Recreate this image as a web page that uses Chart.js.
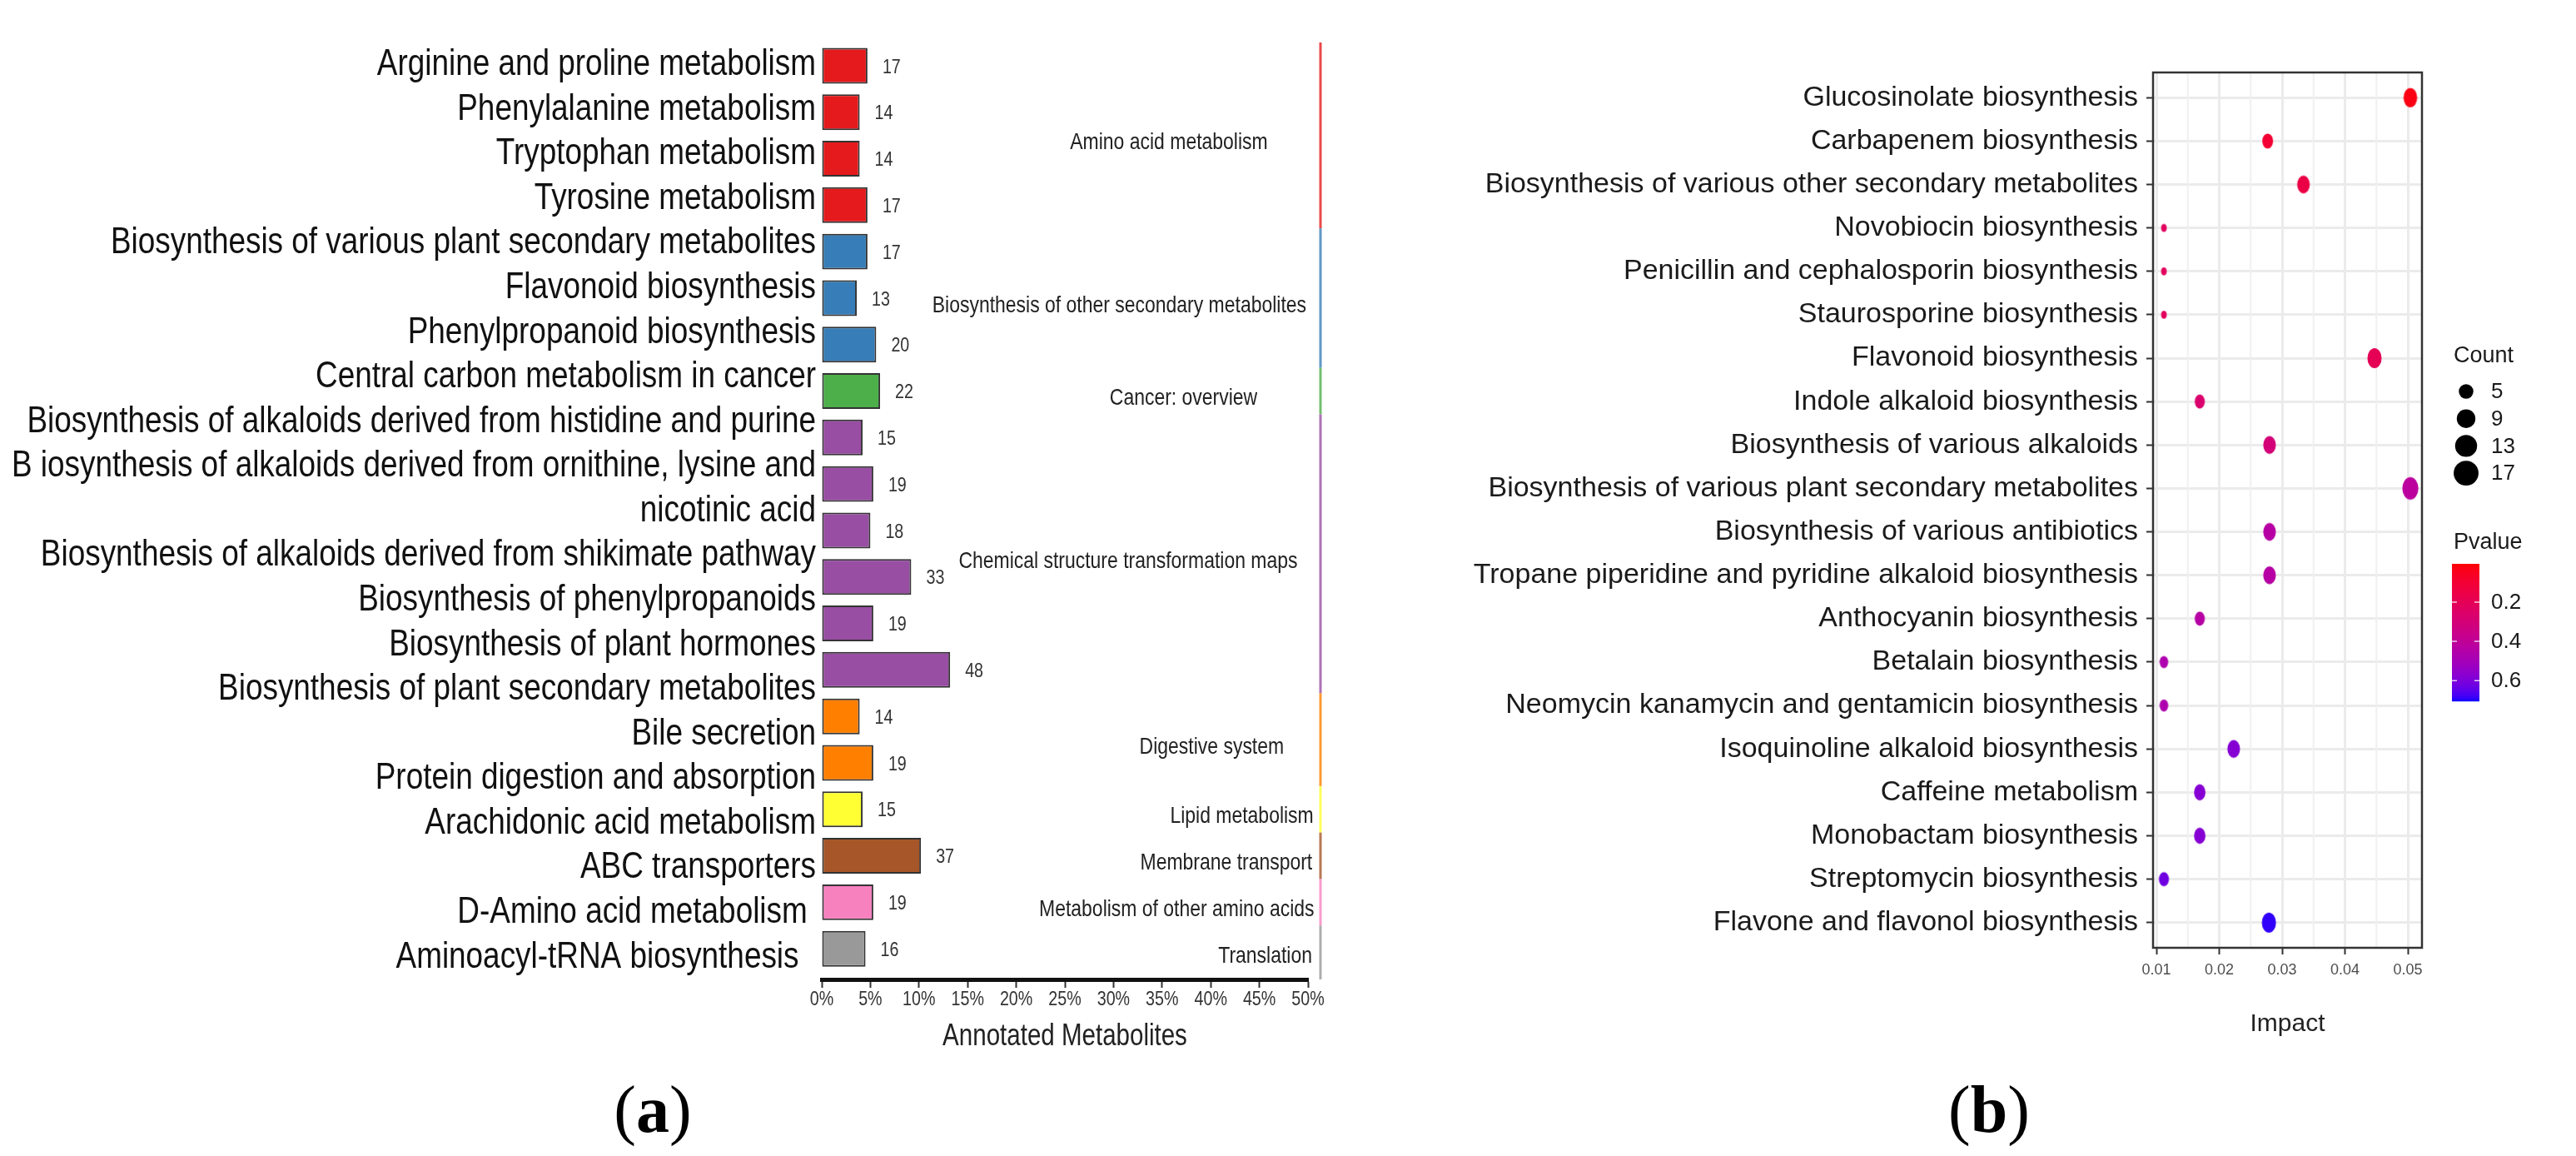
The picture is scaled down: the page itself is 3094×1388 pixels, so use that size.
<!DOCTYPE html>
<html>
<head>
<meta charset="utf-8">
<script src="https://cdn.jsdelivr.net/npm/chart.js@4.4.1/dist/chart.umd.min.js"></script>
<style>
  html, body { margin: 0; padding: 0; background: #fff; }
  #page { position: relative; width: 3094px; height: 1388px; overflow: hidden; }
  .box { position: absolute; top: 0; height: 1388px; }
  #boxA { left: 0; width: 1650px; }
  #boxB { left: 1650px; width: 1444px; }
  .tag { position: absolute; top: 1292px; font-family: "Liberation Serif", "DejaVu Serif", serif;
         font-size: 80px; line-height: 80px; color: #000; transform: translateX(-50%); }
</style>
</head>
<body>
<div id="page">
  <div class="box" id="boxA"><canvas id="chartA"></canvas></div>
  <div class="box" id="boxB"><canvas id="chartB"></canvas></div>
  <div class="tag" style="left:784px">(<b>a</b>)</div>
  <div class="tag" style="left:2389px">(<b>b</b>)</div>
</div>
<script>
const SANS = '"Liberation Sans", Arial, sans-serif';
const SQUEEZE = 0.82;   // panel (a) text is set in a condensed face

/* ---------- panel (a) data ---------- */
const pathways = [
  "Arginine and proline metabolism",
  "Phenylalanine metabolism",
  "Tryptophan metabolism",
  "Tyrosine metabolism",
  "Biosynthesis of various plant secondary metabolites",
  "Flavonoid biosynthesis",
  "Phenylpropanoid biosynthesis",
  "Central carbon metabolism in cancer",
  "Biosynthesis of alkaloids derived from histidine and purine",
  "B iosynthesis of alkaloids derived from ornithine, lysine and nicotinic acid",
  "Biosynthesis of alkaloids derived from shikimate pathway",
  "Biosynthesis of phenylpropanoids",
  "Biosynthesis of plant hormones",
  "Biosynthesis of plant secondary metabolites",
  "Bile secretion",
  "Protein digestion and absorption",
  "Arachidonic acid metabolism",
  "ABC transporters",
  "D-Amino acid metabolism",
  "Aminoacyl-tRNA biosynthesis"
];
// the text column of the figure runs on its own line grid (one name wraps)
const labelLines = [
  "Arginine and proline metabolism",
  "Phenylalanine metabolism",
  "Tryptophan metabolism",
  "Tyrosine metabolism",
  "Biosynthesis of various plant secondary metabolites",
  "Flavonoid biosynthesis",
  "Phenylpropanoid biosynthesis",
  "Central carbon metabolism in cancer",
  "Biosynthesis of alkaloids derived from histidine and purine",
  "B iosynthesis of alkaloids derived from ornithine, lysine and",
  "nicotinic acid",
  "Biosynthesis of alkaloids derived from shikimate pathway",
  "Biosynthesis of phenylpropanoids",
  "Biosynthesis of plant hormones",
  "Biosynthesis of plant secondary metabolites",
  "Bile secretion",
  "Protein digestion and absorption",
  "Arachidonic acid metabolism",
  "ABC transporters",
  "D-Amino acid metabolism ",
  "Aminoacyl-tRNA biosynthesis  "
];
const counts   = [17, 14, 14, 17, 17, 13, 20, 22, 15, 19, 18, 33, 19, 48, 14, 19, 15, 37, 19, 16];
const percents = [4.7, 3.9, 3.9, 4.7, 4.7, 3.6, 5.6, 6.0, 4.2, 5.3, 5.0, 9.2, 5.3, 13.2, 3.9, 5.3, 4.2, 10.2, 5.3, 4.5];
const percentTicks = [0, 5, 10, 15, 20, 25, 30, 35, 40, 45, 50];

const groupNames = [
  "Amino acid metabolism",
  "Biosynthesis of other secondary metabolites",
  "Cancer: overview",
  "Chemical structure transformation maps",
  "Digestive system",
  "Lipid metabolism",
  "Membrane transport",
  "Metabolism of other amino acids",
  "Translation"
];
const groupOf = [0, 0, 0, 0, 1, 1, 1, 2, 3, 3, 3, 3, 3, 3, 4, 4, 5, 6, 7, 8];
const groupColors = ["#E41A1C", "#377EB8", "#4DAF4A", "#984EA3", "#FF7F00",
                     "#FFFF33", "#A65628", "#F781BF", "#999999"];
// where each group name sits, in axis units (%)
const groupNameX = [35.7, 30.6, 37.2, 31.5, 40.1, 43.2, 41.6, 36.5, 45.6];

/* ---------- panel (b) data ---------- */
const impactPathways = [
  "Glucosinolate biosynthesis",
  "Carbapenem biosynthesis",
  "Biosynthesis of various other secondary metabolites",
  "Novobiocin biosynthesis",
  "Penicillin and cephalosporin biosynthesis",
  "Staurosporine biosynthesis",
  "Flavonoid biosynthesis",
  "Indole alkaloid biosynthesis",
  "Biosynthesis of various alkaloids",
  "Biosynthesis of various plant secondary metabolites",
  "Biosynthesis of various antibiotics",
  "Tropane piperidine and pyridine alkaloid biosynthesis",
  "Anthocyanin biosynthesis",
  "Betalain biosynthesis",
  "Neomycin kanamycin and gentamicin biosynthesis",
  "Isoquinoline alkaloid biosynthesis",
  "Caffeine metabolism",
  "Monobactam biosynthesis",
  "Streptomycin biosynthesis",
  "Flavone and flavonol biosynthesis"
];
const impact   = [0.0504, 0.0277, 0.0334, 0.0112, 0.0112, 0.0112, 0.0447, 0.0169, 0.0280, 0.0504,
                  0.0280, 0.0280, 0.0169, 0.0112, 0.0112, 0.0223, 0.0169, 0.0169, 0.0112, 0.0279];
const hitCount = [12, 7, 10, 1, 1, 1, 13, 6, 10, 17, 10, 10, 6, 4, 4, 10, 8, 8, 6, 13];
const pvalue   = [0.03, 0.10, 0.15, 0.22, 0.22, 0.22, 0.20, 0.27, 0.30, 0.42,
                  0.44, 0.44, 0.44, 0.47, 0.47, 0.58, 0.58, 0.58, 0.62, 0.69];
const impactMinor = [0.015, 0.025, 0.035, 0.045];
const countKeys = [5, 9, 13, 17];
const pvalueKeys = [0.2, 0.4, 0.6];
const P_MIN = 0.005, P_MAX = 0.705;

/* ---------- colour ramp red -> blue in CIELAB (like ggplot) ---------- */
function toLab(hex) {
  const n = parseInt(hex.slice(1), 16);
  const [r, g, b] = [n >> 16 & 255, n >> 8 & 255, n & 255].map(c => {
    c /= 255; return c <= 0.04045 ? c / 12.92 : Math.pow((c + 0.055) / 1.055, 2.4);
  });
  const x = (0.4124 * r + 0.3576 * g + 0.1805 * b) / 0.95047;
  const y = 0.2126 * r + 0.7152 * g + 0.0722 * b;
  const z = (0.0193 * r + 0.1192 * g + 0.9505 * b) / 1.08883;
  const f = t => t > 0.008856 ? Math.cbrt(t) : 7.787 * t + 16 / 116;
  return [116 * f(y) - 16, 500 * (f(x) - f(y)), 200 * (f(y) - f(z))];
}
function fromLab([L, a, b]) {
  const fy = (L + 16) / 116, fx = fy + a / 500, fz = fy - b / 200;
  const inv = t => t > 0.206893 ? t * t * t : (t - 16 / 116) / 7.787;
  const x = inv(fx) * 0.95047, y = inv(fy), z = inv(fz) * 1.08883;
  const lin = [3.2406 * x - 1.5372 * y - 0.4986 * z,
               -0.9689 * x + 1.8758 * y + 0.0415 * z,
               0.0557 * x - 0.2040 * y + 1.0570 * z];
  const out = lin.map(c => {
    c = c <= 0.0031308 ? 12.92 * c : 1.055 * Math.pow(c, 1 / 2.4) - 0.055;
    return Math.round(Math.min(1, Math.max(0, c)) * 255);
  });
  return `rgb(${out[0]},${out[1]},${out[2]})`;
}
const LOW_LAB = toLab("#FF0000"), HIGH_LAB = toLab("#0000FF");
function pColor(p) {
  const t = Math.min(1, Math.max(0, (p - P_MIN) / (P_MAX - P_MIN)));
  return fromLab(LOW_LAB.map((v, k) => v + (HIGH_LAB[k] - v) * t));
}
function dotRadius(c) { return Math.sqrt(35 + 29 * c) / 2; }

// dots in the plot come out a little taller than wide
function makeDot(color, r) {
  const w = 2 * r * 0.84, h = 2 * r * 1.18;
  const c = document.createElement("canvas");
  c.width = Math.ceil(w) + 2;
  c.height = Math.ceil(h) + 2;
  const g = c.getContext("2d");
  g.fillStyle = color;
  g.beginPath();
  g.ellipse(c.width / 2, c.height / 2, w / 2, h / 2, 0, 0, Math.PI * 2);
  g.fill();
  return c;
}

function squeezed(ctx, text, x, y, size, color, align) {
  ctx.save();
  ctx.font = `${size}px ${SANS}`;
  ctx.fillStyle = color;
  ctx.textAlign = align;
  ctx.textBaseline = "middle";
  ctx.translate(x, y);
  ctx.scale(SQUEEZE, 1);
  ctx.fillText(text, 0, 0);
  ctx.restore();
}

Chart.defaults.font.family = SANS;

/* ===============================
   panel (a) : bars
=============================== */
const barExtras = {
  id: "barExtras",
  afterDraw(chart) {
    const { ctx, chartArea } = chart;
    const meta = chart.getDatasetMeta(0);
    const xs = chart.scales.x, ys = chart.scales.y, ls = chart.scales.y2;

    // pathway names
    labelLines.forEach((t, j) =>
      squeezed(ctx, t, chartArea.left - 7, ls.getPixelForValue(j), 45, "#111", "right"));

    // counts next to the bars
    meta.data.forEach((bar, i) =>
      squeezed(ctx, String(counts[i]), bar.x + 18, bar.y + 2, 24, "#333", "left"));

    // x tick labels and title
    percentTicks.forEach(v =>
      squeezed(ctx, v + "%", xs.getPixelForValue(v), chartArea.bottom + 24, 24, "#333", "center"));
    squeezed(ctx, "Annotated Metabolites", (chartArea.left + chartArea.right) / 2,
             chartArea.bottom + 69, 36, "#222", "center");

    // class strip and class names
    const pitch = ys.getPixelForValue(1) - ys.getPixelForValue(0);
    groupNames.forEach((name, g) => {
      const rows = groupOf.map((v, i) => v === g ? i : -1).filter(i => i >= 0);
      const first = rows[0], last = rows[rows.length - 1];
      const top = first === 0 ? chartArea.top : ys.getPixelForValue(first) - pitch / 2;
      const bottom = last === pathways.length - 1 ? chartArea.bottom
                                                  : ys.getPixelForValue(last) + pitch / 2;
      ctx.save();
      ctx.globalAlpha = 0.8;
      ctx.strokeStyle = groupColors[g];
      ctx.lineWidth = 3;
      ctx.beginPath();
      ctx.moveTo(chartArea.right + 15, top);
      ctx.lineTo(chartArea.right + 15, bottom);
      ctx.stroke();
      ctx.restore();

      const mid = (ys.getPixelForValue(first) + ys.getPixelForValue(last)) / 2;
      squeezed(ctx, name, xs.getPixelForValue(groupNameX[g]), mid + 9, 28, "#222", "center");
    });
  }
};

new Chart(document.getElementById("chartA"), {
  type: "bar",
  data: {
    datasets: [{
      data: percents.map((v, i) => ({ x: v, y: i })),
      backgroundColor: groupOf.map(g => groupColors[g]),
      borderColor: "#333",
      borderWidth: 2,
      borderSkipped: false,
      barPercentage: 0.77,
      categoryPercentage: 1,
      xAxisID: "x",
      yAxisID: "y"
    }]
  },
  options: {
    indexAxis: "y",
    responsive: true,
    maintainAspectRatio: false,
    animation: false,
    layout: { padding: { top: 51, right: 79, bottom: 152, left: 0 } },
    plugins: { legend: { display: false }, tooltip: { enabled: false } },
    scales: {
      x: {
        type: "linear",
        min: 0,
        max: 50,
        afterBuildTicks: s => { s.ticks = percentTicks.map(v => ({ value: v })); },
        ticks: { display: false },
        grid: { drawOnChartArea: false, tickLength: 10, tickWidth: 2, tickColor: "#333" },
        border: { display: true, width: 5, color: "#111" },
        afterFit: s => { s.height = 60; }
      },
      y: {
        type: "linear",
        display: false,
        reverse: true,
        offset: false,
        min: -0.5,
        max: 19.66,
        grid: { offset: false },
        afterBuildTicks: s => { s.ticks = pathways.map((_, i) => ({ value: i })); }
      },
      y2: {
        type: "category",
        labels: labelLines,
        position: "left",
        offset: true,
        grid: { display: false },
        border: { display: false },
        ticks: { display: false },
        afterFit: s => { s.width = 987; }
      }
    }
  },
  plugins: [barExtras]
});

/* ===============================
   panel (b) : bubbles
=============================== */
const dotImages = pvalue.map((p, i) => makeDot(pColor(p), dotRadius(hitCount[i])));

const panelB = {
  id: "panelB",
  beforeDatasetsDraw(chart) {
    const { ctx, chartArea } = chart;
    const xs = chart.scales.x;
    ctx.save();
    ctx.strokeStyle = "#f0f0f0";
    ctx.lineWidth = 2;
    impactMinor.forEach(v => {
      const x = xs.getPixelForValue(v);
      ctx.beginPath();
      ctx.moveTo(x, chartArea.top);
      ctx.lineTo(x, chartArea.bottom);
      ctx.stroke();
    });
    ctx.restore();
  },
  afterDraw(chart) {
    const { ctx, chartArea } = chart;
    ctx.save();
    ctx.strokeStyle = "#333";
    ctx.lineWidth = 2.5;
    ctx.strokeRect(chartArea.left, chartArea.top,
                   chartArea.right - chartArea.left, chartArea.bottom - chartArea.top);

    // legend: Count
    const lx = chartArea.right + 38;
    ctx.fillStyle = "#1a1a1a";
    ctx.textBaseline = "middle";
    ctx.textAlign = "left";
    ctx.font = `27px ${SANS}`;
    ctx.fillText("Count", lx, 428);
    ctx.font = `26px ${SANS}`;
    countKeys.forEach((c, i) => {
      const y = 470 + i * 32.7;
      ctx.fillStyle = "#000";
      ctx.beginPath();
      ctx.arc(lx + 15, y, dotRadius(c) * 1.3, 0, Math.PI * 2);
      ctx.fill();
      ctx.fillStyle = "#1a1a1a";
      ctx.fillText(String(c), lx + 45, y + 1);
    });

    // legend: Pvalue colourbar
    ctx.font = `27px ${SANS}`;
    ctx.fillText("Pvalue", lx, 652);
    const bx = lx - 2, bw = 33, by = 677, bh = 165;
    for (let k = 0; k < bh; k++) {
      ctx.fillStyle = pColor(P_MIN + (P_MAX - P_MIN) * (k + 0.5) / bh);
      ctx.fillRect(bx, by + k, bw, 1.2);
    }
    ctx.font = `26px ${SANS}`;
    pvalueKeys.forEach(p => {
      const y = by + (p - P_MIN) / (P_MAX - P_MIN) * bh;
      ctx.strokeStyle = "rgba(255,255,255,0.8)";
      ctx.lineWidth = 1.5;
      ctx.beginPath();
      ctx.moveTo(bx, y); ctx.lineTo(bx + 6, y);
      ctx.moveTo(bx + bw - 6, y); ctx.lineTo(bx + bw, y);
      ctx.stroke();
      ctx.fillStyle = "#1a1a1a";
      ctx.fillText(p.toFixed(1), bx + 47, y + 1);
    });
    ctx.restore();
  }
};

new Chart(document.getElementById("chartB"), {
  type: "bubble",
  data: {
    datasets: [{
      data: impact.map((x, i) => ({ x: x, y: i, r: dotRadius(hitCount[i]) })),
      backgroundColor: pvalue.map(pColor),
      pointStyle: ctx => dotImages[ctx.dataIndex],
      borderWidth: 0,
      hoverBorderWidth: 0
    }]
  },
  options: {
    responsive: true,
    maintainAspectRatio: false,
    animation: false,
    layout: { padding: { top: 87, right: 185, bottom: 136, left: 0 } },
    plugins: { legend: { display: false }, tooltip: { enabled: false } },
    scales: {
      x: {
        type: "linear",
        min: 0.00947,
        max: 0.05225,
        ticks: {
          stepSize: 0.01,
          includeBounds: false,
          callback: v => v.toFixed(2),
          font: { family: SANS, size: 18 },
          color: "#4d4d4d",
          padding: 8
        },
        grid: { color: "#ebebeb", lineWidth: 3, tickColor: "#333", tickLength: 8, tickWidth: 2 },
        border: { display: false },
        title: {
          display: true,
          text: "Impact",
          font: { family: SANS, size: 30 },
          color: "#222",
          padding: { top: 4, bottom: 4 }
        },
        afterFit: s => { s.height = 114; }
      },
      y: {
        type: "linear",
        reverse: true,
        min: -0.58,
        max: 19.58,
        afterBuildTicks: s => { s.ticks = impactPathways.map((_, i) => ({ value: i })); },
        ticks: {
          autoSkip: false,
          callback: v => impactPathways[v],
          font: { family: SANS, size: 34 },
          color: "#1a1a1a",
          padding: 10
        },
        grid: { color: "#ebebeb", lineWidth: 3, tickColor: "#333", tickLength: 8, tickWidth: 2 },
        border: { display: false },
        afterFit: s => { s.width = 936; }
      }
    }
  },
  plugins: [panelB]
});
</script>
</body>
</html>
